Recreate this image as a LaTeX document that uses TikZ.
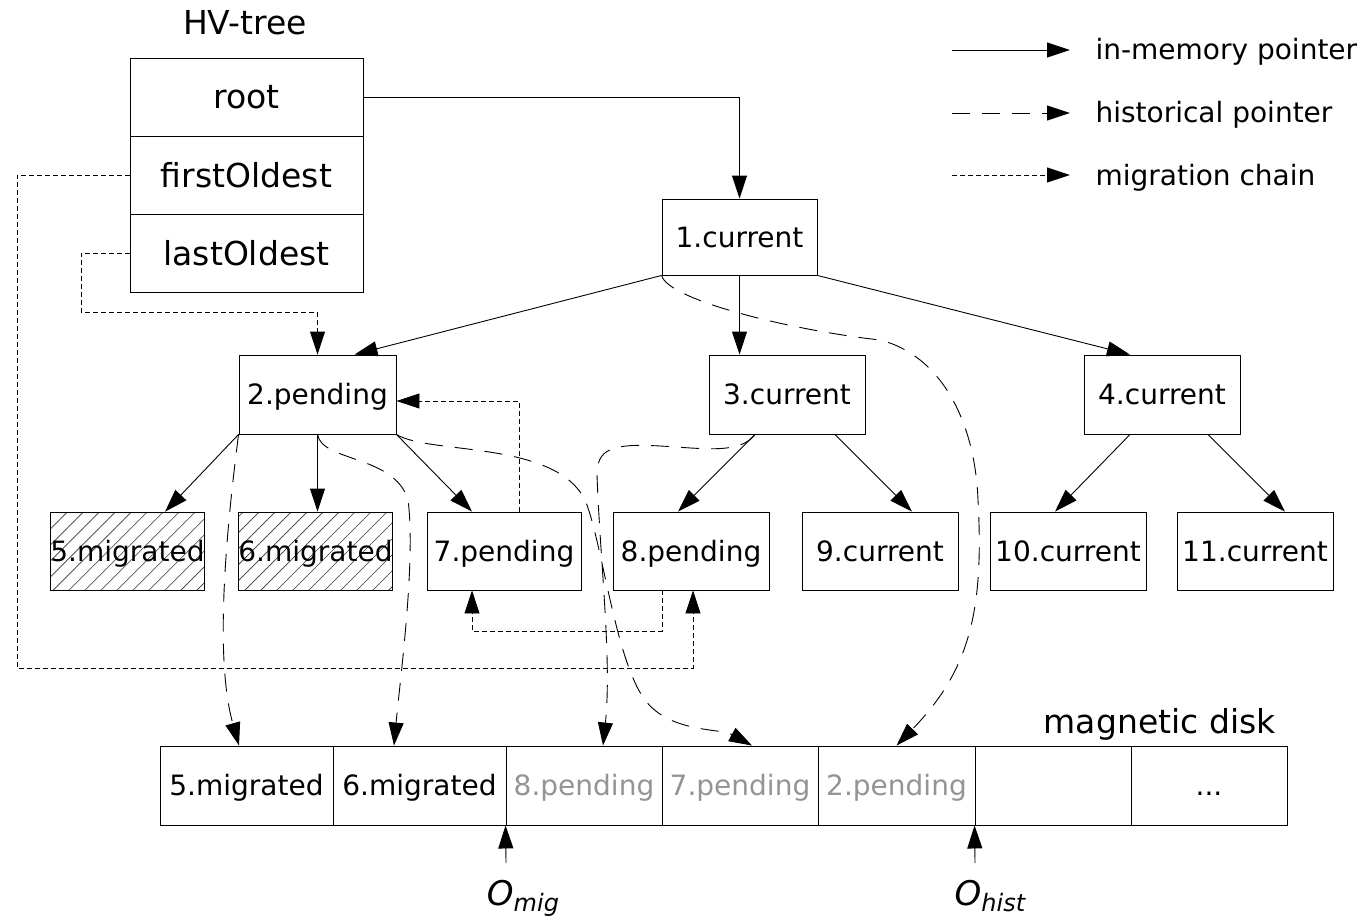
\documentclass[tikz,border=0pt]{standalone}
\usepackage{fontspec}
\setmainfont{DejaVu Sans}
\usetikzlibrary{arrows.meta,patterns.meta}
\newcommand\lblfont{\fontsize{28}{32}\selectfont}
\newcommand\hvfont{\fontsize{33}{38}\selectfont}
\begin{document}
\begin{tikzpicture}[x=1pt,y=-1pt,
  box/.style={draw, line width=0.9pt, inner sep=0pt, minimum width=156pt,
              minimum height=79pt, font=\lblfont, text height=20.5pt, text depth=0pt},
  hvbox/.style={draw, line width=0.9pt, inner sep=0pt, minimum width=233pt,
              minimum height=78pt, font=\hvfont, text height=24pt, text depth=0pt},
  hatched/.style={pattern={Lines[angle=45,distance=11.3pt,line width=0.6pt]},
              pattern color=black!80},
  cell/.style={draw, line width=0.9pt, inner sep=0pt, minimum height=79pt,
              font=\lblfont, text height=20.5pt, text depth=0pt},
  old/.style={text=black!42},
  tip/.style={-{Triangle[length=23pt,width=15pt]}},
  ptr/.style={line width=0.9pt, tip},
  hist/.style={line width=0.9pt, tip, dash pattern=on 18pt off 12pt},
  mig/.style={line width=0.9pt, tip, dash pattern=on 5pt off 3pt},
  legend/.style={font=\lblfont, anchor=base west},
  offset/.style={font=\fontsize{34}{38}\selectfont\itshape, inner sep=1pt},
]
\useasboundingbox (0,0) rectangle (1359,915);

% ---- HV-tree header ----
\node[font=\hvfont, anchor=base] (hvtitle) at (245,35) {HV-tree};
\node[hvbox] (hvroot)  at (246.5,97)  {root};
\node[hvbox] (hvfirst) at (246.5,175) {firstOldest};
\node[hvbox] (hvlast)  at (246.5,253) {lastOldest};

% ---- tree nodes ----
\node[box, minimum width=155pt, minimum height=76pt] (n1) at (739.5,237) {1.current};
\node[box, minimum width=157pt] (n2) at (317.5,394.5) {2.pending};
\node[box] (n3) at (787,394.5)  {3.current};
\node[box] (n4) at (1162,394.5) {4.current};

\node[box, hatched, minimum width=151pt, minimum height=78pt] (n5) at (127.5,551) {5.migrated};
\node[box, hatched, minimum width=153pt, minimum height=78pt] (n6) at (315.5,551) {6.migrated};
\node[box, minimum width=154pt, minimum height=78pt] (n7) at (504,551)  {7.pending};
\node[box, minimum height=78pt] (n8) at (691,551)  {8.pending};
\node[box, minimum height=78pt] (n9) at (880,551)  {9.current};
\node[box, minimum height=78pt] (n10) at (1068,551) {10.current};
\node[box, minimum height=78pt] (n11) at (1255,551) {11.current};

% ---- magnetic disk ----
\node[font=\hvfont, anchor=base east] (disk) at (1279,733) {magnetic disk};
\node[cell, minimum width=173pt] (d1) at (246.5,785.5) {5.migrated};
\node[cell, minimum width=173pt] (d2) at (419.5,785.5) {6.migrated};
\node[cell, old, minimum width=156pt] (d3) at (584,785.5)  {8.pending};
\node[cell, old, minimum width=156pt] (d4) at (740,785.5)  {7.pending};
\node[cell, old, minimum width=157pt] (d5) at (896.5,785.5) {2.pending};
\node[cell, minimum width=156pt] (d6) at (1053,785.5) {};
\node[cell, minimum width=156pt] (d7) at (1209,785.5) {...};

% ---- offsets ----
\node[offset, anchor=base] (omig) at (523,905)
  {O\raisebox{-6pt}{\fontsize{24}{26}\selectfont mig}};
\node[offset, anchor=base] (ohist) at (990,905)
  {O\raisebox{-6pt}{\fontsize{24}{26}\selectfont hist}};
\coordinate (omigtail)  at (506,863);
\coordinate (ohisttail) at (975,863);
\draw[ptr] (omigtail) -- (d3.south west);
\draw[ptr] (ohisttail) -- (d6.south west);

% ---- in-memory pointers ----
\draw[ptr] (hvroot.east) -| (n1.north);
\draw[ptr] (n1.south west) -- ([xshift=37pt]n2.north);
\draw[ptr] (n1.south) -- (n1.south |- n3.north);
\draw[ptr] (n1.south east) -- ([xshift=-32pt]n4.north);
\draw[ptr] (n2.south west) -- ([xshift=37.5pt]n5.north);
\draw[ptr] (n2.south) -- (n2.south |- n6.north);
\draw[ptr] (n2.south east) -- ([xshift=-32pt]n7.north);
\draw[ptr] ([xshift=-32pt]n3.south) -- ([xshift=-13pt]n8.north);
\draw[ptr] ([xshift=48pt]n3.south) -- ([xshift=32pt]n9.north);
\draw[ptr] ([xshift=-32pt]n4.south) -- ([xshift=-13pt]n10.north);
\draw[ptr] ([xshift=46pt]n4.south) -- ([xshift=30pt]n11.north);

% ---- migration chain ----
\draw[mig] (hvfirst.west) -- (17,175) -- (17,668) -| ([xshift=2pt]n8.south);
\draw[mig] (hvlast.west) -- (81,253) -- (81,312) -| (n2.north);
\draw[mig] ([xshift=15pt]n7.north) |- ([yshift=-6.5pt]n2.east);
\draw[mig] ([xshift=-29pt]n8.south) -- ++(0,41) -| ([xshift=-32pt]n7.south);

% ---- historical pointers ----
\draw[hist] (n2.south west) .. controls (225,540) and (215,660) .. ([xshift=-7.5pt]d1.north);
\draw[hist] (n2.south) .. controls (322,462) and (395,455) .. (408,500)
  .. controls (416,560) and (400,680) .. ([xshift=-25.5pt]d2.north);
\draw[hist] (n2.south east) .. controls (430,455) and (555,440) .. (585,500)
  .. controls (602,540) and (615,660) .. (645,700)
  .. controls (670,733) and (720,728) .. ([xshift=12pt]d4.north);
\draw[hist] ([xshift=-32pt]n3.south) .. controls (740,455) and (700,448) .. (660,446)
  .. controls (610,443) and (597,450) .. (597,475)
  .. controls (600,560) and (612,660) .. ([xshift=19pt]d3.north);
\draw[hist] (n1.south west) .. controls (668,300) and (790,330) .. (880,340)
  .. controls (940,355) and (975,420) .. (978,500)
  .. controls (984,610) and (970,670) .. (d5.north);

% ---- legend ----
\coordinate (l1a) at (952,50);  \coordinate (l1b) at (1070,50);
\coordinate (l2a) at (952,113); \coordinate (l2b) at (1070,113);
\coordinate (l3a) at (952,175); \coordinate (l3b) at (1070,175);
\draw[ptr]  (l1a) -- (l1b);
\draw[hist] (l2a) -- (l2b);
\draw[mig]  (l3a) -- (l3b);
\node[legend] (t1) at (1092,60)  {in-memory pointer};
\node[legend] (t2) at (1092,123) {historical pointer};
\node[legend] (t3) at (1092,185) {migration chain};
\end{tikzpicture}
\end{document}
